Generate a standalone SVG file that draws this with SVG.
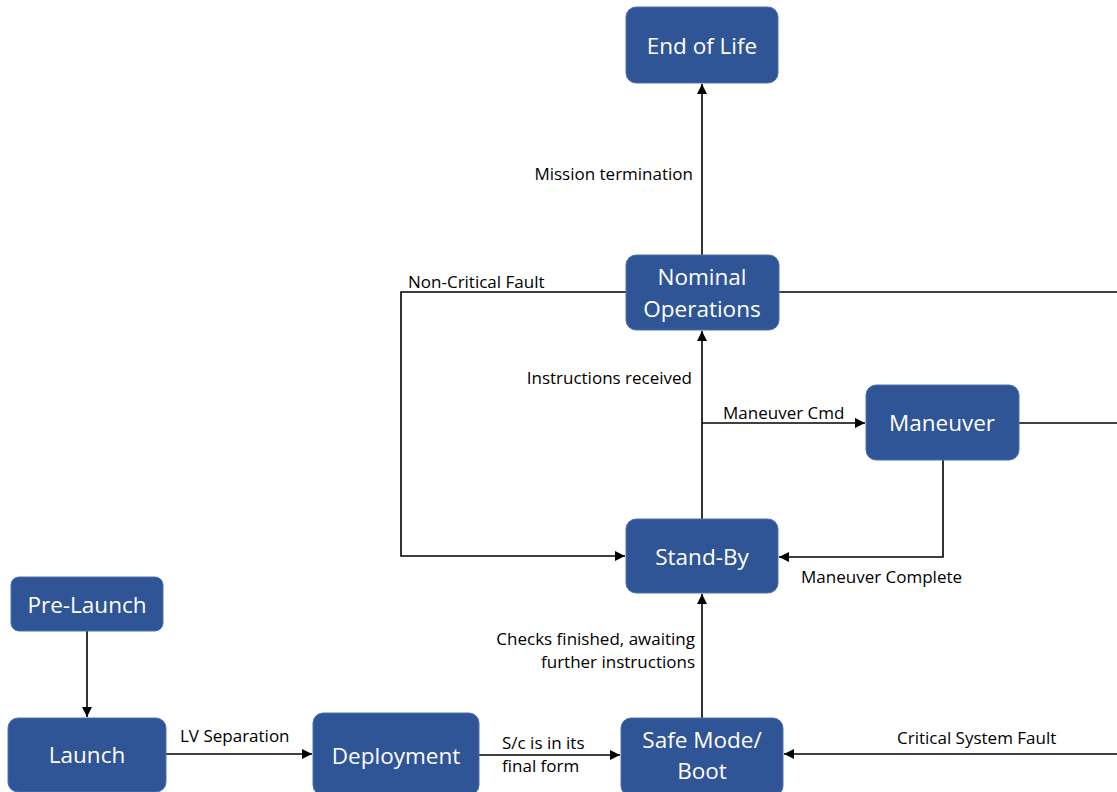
<svg xmlns="http://www.w3.org/2000/svg" width="1117" height="792" viewBox="0 0 1117 792">
<style>
.box{fill:#2f5597;stroke:#4a72b8;stroke-width:1}
.nt{font-family:"Open Sans","Noto Sans","Liberation Sans",sans-serif;font-size:22.5px;fill:#ffffff;text-anchor:middle}
.lb{font-family:"Open Sans","Noto Sans","Liberation Sans",sans-serif;font-size:17px;fill:#000000}
.r{text-anchor:end}
.c{fill:none;stroke:#000000;stroke-width:1.6}
</style>
<defs>
<marker id="ah" viewBox="0 0 10 10" refX="10" refY="5" markerWidth="10" markerHeight="10" markerUnits="userSpaceOnUse" orient="auto">
<path d="M0,0 L10,5 L0,10 z" fill="#000000"/>
</marker>
</defs>
<rect width="1117" height="792" fill="#ffffff"/>
<g id="connectors">
<path class="c" d="M702,255 V84" marker-end="url(#ah)"/>
<path class="c" d="M702,519 V331" marker-end="url(#ah)"/>
<path class="c" d="M702,423 H865" marker-end="url(#ah)"/>
<path class="c" d="M943,460 V557 H779" marker-end="url(#ah)"/>
<path class="c" d="M779,292 H1117"/>
<path class="c" d="M1019,423 H1117"/>
<path class="c" d="M1117,754 H784" marker-end="url(#ah)"/>
<path class="c" d="M626,292 H401 V556 H625" marker-end="url(#ah)"/>
<path class="c" d="M702,718 V594" marker-end="url(#ah)"/>
<path class="c" d="M87,631 V717" marker-end="url(#ah)"/>
<path class="c" d="M166,754 H312" marker-end="url(#ah)"/>
<path class="c" d="M479,755 H620" marker-end="url(#ah)"/>
<text class="lb r" x="693" y="180">Mission termination</text>
<text class="lb" x="408" y="288">Non-Critical Fault</text>
<text class="lb r" x="692" y="384">Instructions received</text>
<text class="lb" x="723" y="419">Maneuver Cmd</text>
<text class="lb" x="801" y="583">Maneuver Complete</text>
<text class="lb r" x="695" y="645">Checks finished, awaiting</text>
<text class="lb r" x="695" y="668">further instructions</text>
<text class="lb" x="180" y="742">LV Separation</text>
<text class="lb" x="502" y="749">S/c is in its</text>
<text class="lb" x="502" y="772">final form</text>
<text class="lb" x="897" y="744">Critical System Fault</text>
</g>
<g id="end-of-life">
<rect class="box" x="626" y="7" width="152" height="76" rx="10"/>
<text class="nt" x="702" y="54">End of Life</text>
</g>
<g id="nominal-operations">
<rect class="box" x="626" y="255" width="153" height="75" rx="10"/>
<text class="nt" x="702" y="285">Nominal</text>
<text class="nt" x="702" y="317">Operations</text>
</g>
<g id="maneuver">
<rect class="box" x="866" y="385" width="153" height="75" rx="10"/>
<text class="nt" x="942" y="431">Maneuver</text>
</g>
<g id="stand-by">
<rect class="box" x="626" y="519" width="152" height="74" rx="10"/>
<text class="nt" x="702" y="565">Stand-By</text>
</g>
<g id="pre-launch">
<rect class="box" x="11" y="577" width="152" height="54" rx="8"/>
<text class="nt" x="87" y="613">Pre-Launch</text>
</g>
<g id="launch">
<rect class="box" x="8" y="718" width="158" height="74" rx="10"/>
<text class="nt" x="87" y="763">Launch</text>
</g>
<g id="deployment">
<rect class="box" x="313" y="713" width="166" height="82" rx="10"/>
<text class="nt" x="396" y="764">Deployment</text>
</g>
<g id="safe-mode-boot">
<rect class="box" x="621" y="718" width="162" height="78" rx="10"/>
<text class="nt" x="702" y="748">Safe Mode/</text>
<text class="nt" x="702" y="779">Boot</text>
</g>
</svg>
